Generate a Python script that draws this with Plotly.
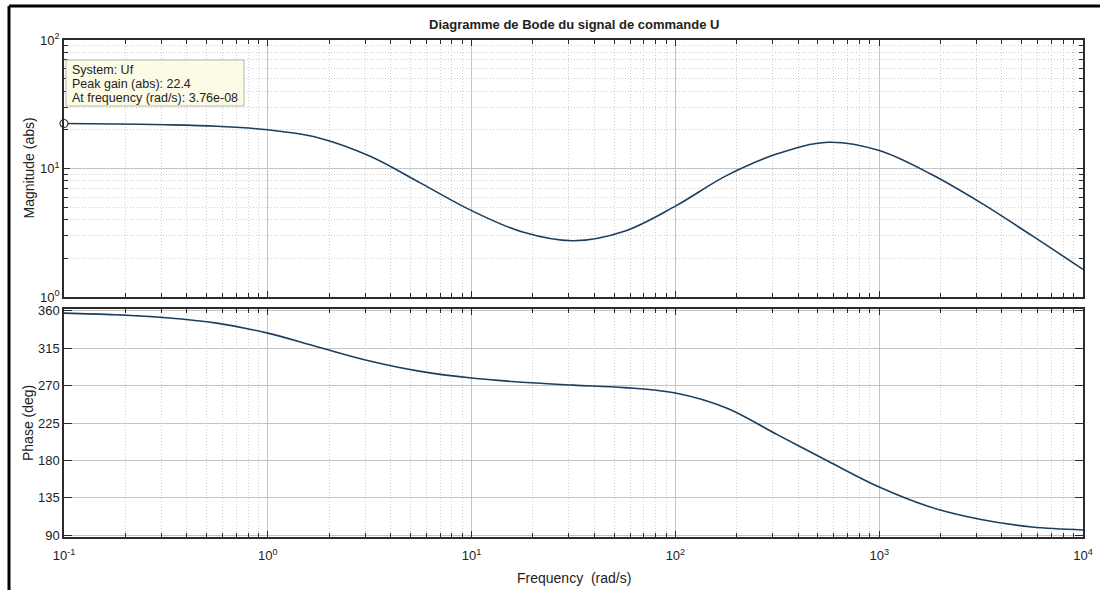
import plotly.graph_objects as go

# Frequency grid (rad/s), four points per decade, and Bode response of U
freq = [0.1, 0.178, 0.316, 0.562, 1, 1.78, 3.16, 5.62, 10, 17.8, 31.6, 56.2,
        100, 178, 316, 562, 1000, 1780, 3160, 5620, 10000]
magnitude = [22.4, 22.2, 21.9, 21.3, 20.0, 17.3, 12.5, 7.7, 4.7, 3.2, 2.74,
             3.25, 5.1, 8.8, 13.0, 16.0, 13.8, 9.1, 5.4, 3.0, 1.64]
phase = [357, 355, 351.5, 345, 333, 316, 299.5, 287, 279, 274, 270.5, 267.5,
         261, 243, 211, 179, 148, 124, 109, 100, 96.5]

# Datatip contents
peak_freq = 0.1
peak_gain = 22.4
tip_lines = ["System: Uf", "Peak gain (abs): 22.4", "At frequency (rad/s): 3.76e-08"]

title_text = "Diagramme de Bode du signal de commande U"
freq_decades = [-1, 0, 1, 2, 3, 4]
mag_decades = [0, 1, 2]
phase_ticks = [90, 135, 180, 225, 270, 315, 360]

W, H = 1100, 590
FONT = "Liberation Sans, Arial, Helvetica, sans-serif"
LINE = "#1c3f60"
AXIS = "#2b2b2b"
GRID = "#c4c4c4"
MINOR_GRID = "#cdcdcd"
DOT = "1px,2px"
TEXT = "#222"


def px_x(p):
    return p / W


def px_y(p):
    return 1 - p / H


def pow_label(d):
    return "10<sup>%d</sup>" % d


x_left, x_right = 64, 1083
mag_top, mag_bot = 40, 297
ph_top, ph_bot = 309, 537

# minor ticks on the log axes: 2..9 within each decade
x_minor = [m * 10 ** d for d in range(-1, 4) for m in range(2, 10)]
y_minor = [m * 10 ** d for d in range(0, 2) for m in range(2, 10)]

fig = go.Figure()

fig.add_trace(go.Scatter(x=freq, y=magnitude, mode="lines", line_shape="spline",
                         line=dict(color=LINE, width=1.6, smoothing=1),
                         xaxis="x", yaxis="y", showlegend=False, hoverinfo="skip"))
fig.add_trace(go.Scatter(x=freq, y=phase, mode="lines", line_shape="spline",
                         line=dict(color=LINE, width=1.6, smoothing=1),
                         xaxis="x2", yaxis="y2", showlegend=False, hoverinfo="skip"))
fig.add_trace(go.Scatter(x=[peak_freq], y=[peak_gain], mode="markers",
                         marker=dict(symbol="circle", size=8, color="white",
                                     line=dict(color="#3a3a3a", width=1.2)),
                         cliponaxis=False, xaxis="x", yaxis="y",
                         showlegend=False, hoverinfo="skip"))

common_x = dict(
    type="log", range=[-1, 4], automargin=False,
    tickmode="array", tickvals=[10 ** d for d in freq_decades],
    ticktext=[pow_label(d) for d in freq_decades],
    showline=True, linecolor=AXIS, linewidth=1.5, mirror="allticks",
    ticks="inside", ticklen=6, tickwidth=1.2, tickcolor=AXIS,
    showgrid=True, gridcolor=GRID, gridwidth=1, zeroline=False,
    domain=[px_x(x_left), px_x(x_right)],
    tickfont=dict(family=FONT, size=13, color=TEXT),
    minor=dict(tickmode="array", tickvals=x_minor, ticks="inside", ticklen=4,
               tickwidth=1, tickcolor=AXIS, showgrid=True,
               gridcolor=MINOR_GRID, griddash=DOT, gridwidth=1),
)

fig.update_layout(
    width=W, height=H,
    margin=dict(l=0, r=0, t=0, b=0, autoexpand=False),
    paper_bgcolor="white", plot_bgcolor="white",
    font=dict(family=FONT, color=TEXT),
    xaxis=dict(common_x, anchor="y", showticklabels=False),
    xaxis2=dict(common_x, anchor="y2", ticklabelstandoff=6),
    yaxis=dict(
        type="log", range=[0, 2], automargin=False,
        tickmode="array", tickvals=[10 ** d for d in mag_decades],
        ticktext=[pow_label(d) for d in mag_decades],
        domain=[px_y(mag_bot), px_y(mag_top)], anchor="x",
        showline=True, linecolor=AXIS, linewidth=1.5, mirror="allticks",
        ticks="inside", ticklen=6, tickwidth=1.2, tickcolor=AXIS,
        showgrid=True, gridcolor=GRID, zeroline=False,
        tickfont=dict(family=FONT, size=13, color=TEXT),
        minor=dict(tickmode="array", tickvals=y_minor, ticks="inside", ticklen=4,
                   tickwidth=1, tickcolor=AXIS, showgrid=True,
                   gridcolor=MINOR_GRID, griddash=DOT, gridwidth=1),
    ),
    yaxis2=dict(
        range=[88, 362], tickmode="array", tickvals=phase_ticks, automargin=False,
        domain=[px_y(ph_bot), px_y(ph_top)], anchor="x2",
        showline=True, linecolor=AXIS, linewidth=1.5, mirror="allticks",
        ticks="inside", ticklen=8, tickwidth=1.2, tickcolor=AXIS,
        showgrid=True, gridcolor=GRID, zeroline=False,
        tickfont=dict(family=FONT, size=13, color=TEXT),
    ),
)


def label(text, x, y, size=14, angle=0, bold=False, anchor="center"):
    fig.add_annotation(text=("<b>%s</b>" % text) if bold else text,
                       xref="paper", yref="paper", x=px_x(x), y=px_y(y),
                       xanchor=anchor, yanchor="middle", textangle=angle,
                       showarrow=False, font=dict(family=FONT, size=size, color=TEXT))


# Title and axis titles
label(title_text, (x_left + x_right) / 2, 24, size=13, bold=True)
label("Frequency  (rad/s)", (x_left + x_right) / 2, 578, size=14)
label("Magnitude (abs)", 28, (mag_top + mag_bot) / 2, size=14, angle=-90)
label("Phase (deg)", 28, (ph_top + ph_bot) / 2, size=14, angle=-90)

# Datatip box
fig.add_shape(type="rect", xref="paper", yref="paper",
              x0=px_x(66), x1=px_x(244), y0=px_y(60), y1=px_y(106),
              fillcolor="#fbfbe6", line=dict(color="#b8b8a8", width=1))
for i, line in enumerate(tip_lines):
    label(line, 70, 70 + 14 * i, size=12.5, anchor="left")

# Figure frame
fig.add_shape(type="line", xref="paper", yref="paper", x0=px_x(9), x1=1,
              y0=px_y(6), y1=px_y(6), line=dict(color="black", width=3))
fig.add_shape(type="line", xref="paper", yref="paper", x0=px_x(9), x1=px_x(9),
              y0=px_y(6), y1=0, line=dict(color="black", width=3))

fig.write_html("out.html")
